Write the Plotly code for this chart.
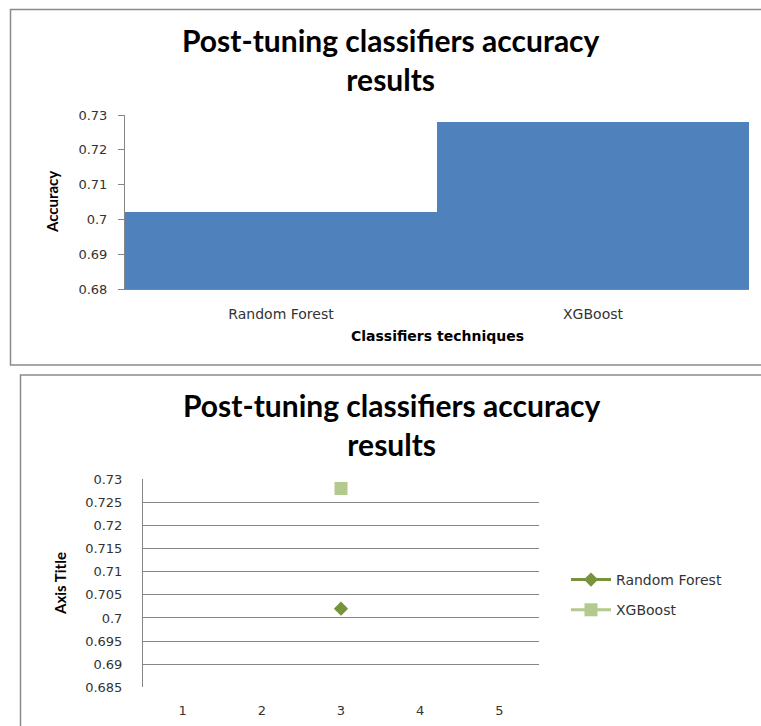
import plotly.graph_objects as go

# Tuned classifier accuracies
classifiers = ["Random Forest", "XGBoost"]
accuracy = [0.702, 0.728]

# Scatter view: both series plotted at run index 3
run_index = [3]
rf_accuracy = [0.702]
xgb_accuracy = [0.728]

# Tick labels
bar_ytick_vals = [0.68, 0.69, 0.70, 0.71, 0.72, 0.73]
bar_ytick_text = ["0.68", "0.69", "0.7", "0.71", "0.72", "0.73"]
sc_ytick_vals = [0.685, 0.69, 0.695, 0.70, 0.705, 0.71, 0.715, 0.72, 0.725, 0.73]
sc_ytick_text = ["0.685", "0.69", "0.695", "0.7", "0.705", "0.71", "0.715", "0.72", "0.725", "0.73"]
sc_xtick_vals = [1, 2, 3, 4, 5]
sc_xtick_text = ["1", "2", "3", "4", "5"]

W, H = 761, 726
TITLE = "Post-tuning classifiers accuracy<br>results"

def px(x):
    return x / W

def py(y):
    return 1 - y / H

AXIS_GREY = "#868686"
TICK_FONT = dict(family="DejaVu Sans", size=13, color="#333333")
TITLE_FONT = dict(family="Lato", size=30, color="#000000", weight="bold")

fig = go.Figure()

# Top: bar chart
fig.add_trace(go.Bar(
    x=classifiers, y=accuracy, width=1.0,
    marker=dict(color="#4F81BD", line=dict(color="#4F81BD", width=0)),
    showlegend=False, xaxis="x", yaxis="y",
))

# Bottom: scatter chart
fig.add_trace(go.Scatter(
    x=run_index, y=rf_accuracy, name="Random Forest", mode="lines+markers",
    line=dict(color="#77933C", width=3),
    marker=dict(symbol="diamond", size=11, color="#77933C"),
    legendgroup="rf", xaxis="x2", yaxis="y2",
))
fig.add_trace(go.Scatter(
    x=run_index, y=xgb_accuracy, name="XGBoost", mode="lines+markers",
    line=dict(color="#B3C98E", width=3),
    marker=dict(symbol="square", size=13, color="#B3C98E"),
    legendgroup="xgb", xaxis="x2", yaxis="y2",
))

fig.update_layout(
    width=W, height=H,
    margin=dict(l=0, r=0, t=0, b=0, autoexpand=False),
    paper_bgcolor="white", plot_bgcolor="white",
    bargap=0,
    xaxis=dict(
        domain=[px(125), px(749)], range=[-0.5, 1.5], anchor="y", automargin=False,
        showgrid=False, showline=True, linecolor=AXIS_GREY, linewidth=1,
        ticks="", tickfont=dict(family="DejaVu Sans", size=14, color="#333333"),
        ticklabelstandoff=12, zeroline=False,
    ),
    yaxis=dict(
        domain=[py(289), py(115)], range=[0.68, 0.73], anchor="x", automargin=False,
        tickvals=bar_ytick_vals, ticktext=bar_ytick_text,
        showgrid=False, showline=True, linecolor=AXIS_GREY, linewidth=1,
        ticks="outside", ticklen=6, tickcolor=AXIS_GREY,
        tickfont=TICK_FONT, ticklabelstandoff=8, zeroline=False,
    ),
    xaxis2=dict(
        domain=[px(143), px(539)], range=[0.5, 5.5], anchor="y2", automargin=False,
        tickvals=sc_xtick_vals, ticktext=sc_xtick_text,
        showgrid=False, showline=False, ticks="",
        tickfont=TICK_FONT, ticklabelstandoff=14, zeroline=False,
    ),
    yaxis2=dict(
        domain=[py(687.3), py(479.3)], range=[0.685, 0.73], anchor="x2", automargin=False,
        tickvals=sc_ytick_vals, ticktext=sc_ytick_text,
        showgrid=True, gridcolor=AXIS_GREY, gridwidth=1,
        showline=True, linecolor=AXIS_GREY, linewidth=1, ticks="",
        tickfont=TICK_FONT, ticklabelstandoff=17, zeroline=False,
    ),
    legend=dict(
        x=px(566), y=py(595), xanchor="left", yanchor="middle",
        font=dict(family="DejaVu Sans", size=14, color="#333333"),
        traceorder="grouped", tracegroupgap=9,
        bgcolor="rgba(0,0,0,0)", itemwidth=40,
    ),
    showlegend=True,
)

# Chart frames
fig.add_shape(type="rect", xref="paper", yref="paper",
              x0=px(10.5), x1=px(775), y0=py(365), y1=py(9.5),
              line=dict(color="#8A8A8A", width=1.5), layer="below")
fig.add_shape(type="rect", xref="paper", yref="paper",
              x0=px(20.5), x1=px(775), y0=py(740), y1=py(375),
              line=dict(color="#8A8A8A", width=1.5), layer="below")

# Chart titles (two lines each)
for cx, cy in [(391, 59.5), (392, 424.5)]:
    fig.add_annotation(text=TITLE, xref="paper", yref="paper",
                       x=px(cx), y=py(cy), xanchor="center", yanchor="middle",
                       showarrow=False, font=TITLE_FONT)

fig.add_annotation(text="Classifiers techniques", xref="paper", yref="paper",
                   x=px(437), y=py(336), xanchor="center", yanchor="middle",
                   showarrow=False,
                   font=dict(family="DejaVu Sans", size=14, color="#000000", weight="bold"))
fig.add_annotation(text="Accuracy", xref="paper", yref="paper",
                   x=px(52), y=py(202), xanchor="center", yanchor="middle",
                   textangle=-90, showarrow=False,
                   font=dict(family="Lato", size=15, color="#000000", weight="bold"))
fig.add_annotation(text="Axis Title", xref="paper", yref="paper",
                   x=px(60), y=py(584), xanchor="center", yanchor="middle",
                   textangle=-90, showarrow=False,
                   font=dict(family="Lato", size=15, color="#000000", weight="bold"))

fig.write_html("out.html")
